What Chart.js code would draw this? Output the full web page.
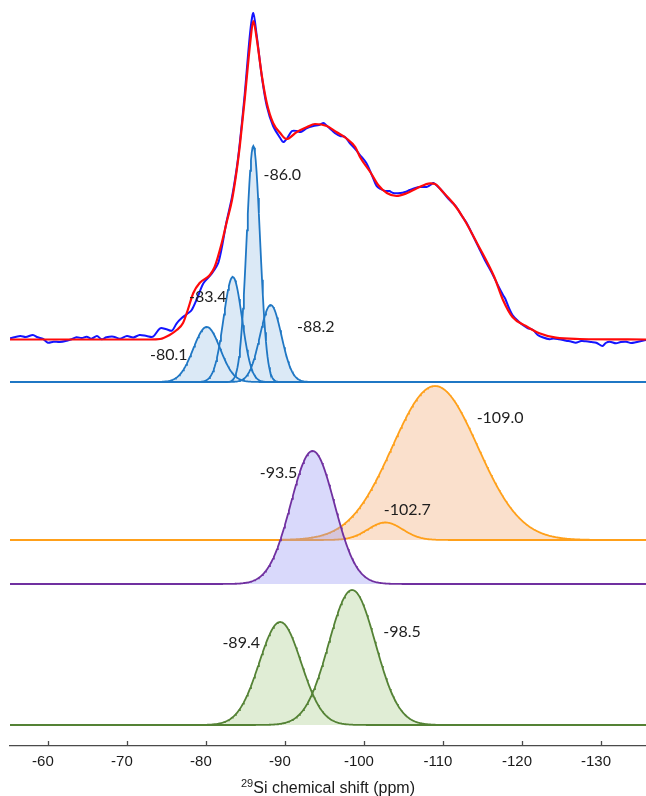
<!DOCTYPE html>
<html>
<head>
<meta charset="utf-8">
<script src="https://cdn.jsdelivr.net/npm/chart.js@4.4.1/dist/chart.umd.min.js"></script>
<style>
  html, body { margin: 0; padding: 0; background: #ffffff; }
  #wrap { position: relative; width: 646px; height: 796px; }
</style>
</head>
<body>
<div id="wrap"><canvas id="nmr" width="646" height="796"></canvas></div>
<script>
// ---- measured 29Si MAS NMR spectrum (ppm, intensity) ----
const expPpm = [-55.2,-56.5,-57.2,-58.1,-58.7,-59.4,-60.0,-60.7,-61.5,-62.4,-63.0,-63.6,-64.3,-64.9,-65.5,-66.2,-66.8,-67.4,-68.3,-69.1,
  -70.0,-70.8,-71.6,-72.5,-73.3,-74.2,-75.0,-75.7,-76.3,-76.9,-77.6,-78.2,-78.8,-79.7,-80.7,-81.6,-82.6,-83.3,-83.9,-84.3,
  -84.9,-85.6,-86.0,-86.4,-87.1,-87.7,-88.5,-89.4,-89.8,-90.3,-90.9,-91.5,-92.0,-92.8,-93.6,-94.3,-94.9,-95.2,-95.9,-96.5,
  -97.0,-97.6,-98.2,-98.9,-99.5,-100.3,-101.0,-101.6,-102.1,-102.7,-103.2,-103.7,-104.6,-105.2,-105.8,-106.5,-107.1,-107.9,-108.4,-108.8,
  -109.4,-109.9,-110.5,-111.1,-111.7,-112.4,-113.0,-113.7,-114.5,-115.3,-116.2,-117.0,-117.6,-117.9,-118.3,-118.8,-119.5,-120.1,-120.7,-121.4,
  -122.0,-122.6,-123.5,-124.0,-124.7,-125.6,-126.2,-126.8,-127.5,-128.1,-128.8,-129.4,-130.2,-130.6,-131.1,-131.9,-132.5,-133.2,-133.8,-134.4,
  -135.1,-135.7];
const expInt = [1.7,4,3,5,2.7,1,-2.7,-1.7,-2,-0.7,0.7,2.7,2,3.3,1.3,4,0.7,2.7,3.3,1.3,
  4,2.5,5,4,3.3,11.7,10.7,9.3,16.7,21.7,26,30,40,57,66,78,118,143,172,198,
  245,308,327,306,262,234,214,202,198,202,209,209,208,212,214,215,217,215,210,206,
  204,203,197,191,185,177,165,154,151,149,149,147,147,148,150,152,153,153,155,157,
  153,149,143,138,133,124,117,106,93,80,67,54,45,41,33,25,19,15,12,10,
  5,2.7,0.7,1.5,0.7,-0.7,-1.5,-2.7,-1,-1.3,-2,-2.7,-6,-3,-1.7,-3.3,-2,-1.7,-3,-2.3,
  -1,0];

// ---- overall fit ----
const fitPpm = [-55.2,-72.9,-74.2,-75.4,-76.3,-77.1,-77.7,-78.4,-79.2,-80.5,-81.1,-82.0,-82.6,-83.3,-83.9,-84.3,-84.9,-85.6,-86.0,-86.4,
  -87.1,-87.7,-88.5,-89.4,-90.2,-91.5,-92.8,-93.8,-95.3,-96.5,-97.8,-98.9,-99.5,-100.8,-101.8,-102.9,-104.1,-105.4,-106.7,-108.4,
  -109.0,-110.0,-111.3,-112.6,-114.3,-116.5,-117.6,-118.8,-120.5,-122.2,-124.3,-127.3,-135.7];
const fitInt = [0.5,0.5,1,5,10,17,30,47,57,65,73,97,117,140,170,195,240,297,319,303,
  263,237,217,207,201,208,213,216,214,208,201.5,193,183,168,155,147,144,146.7,151.7,156.7,
  156,148,136.7,121.7,97,63,40,23,14,6.7,2.3,1,0.5];

// ---- Gaussian components: centre (ppm), height, sigma (ppm) ----
const q2Centers = [-80.1, -83.4, -86.0, -88.2];
const q2Heights = [55, 105, 236, 77];
const q2Sigmas  = [1.7, 1.17, 0.85, 1.35];

const q4Centers = [-102.7, -109.0];
const q4Heights = [17.5, 154];
const q4Sigmas  = [2.2, 5.4];

const q3Centers = [-93.5];
const q3Heights = [133];
const q3Sigmas  = [2.75];

const q3bCenters = [-89.4, -98.5];
const q3bHeights = [103, 135];
const q3bSigmas  = [2.65, 2.95];

// ---- axis ----
const tickValues = [-60, -70, -80, -90, -100, -110, -120, -130];
const X_LEFT = -55.2, X_RIGHT = -135.7;

// vertical stacking of the traces (intensity units)
const rows = { spectrum: 406, q2: 364, q4: 206, q3: 162, q3b: 21 };

function gaussian(center, height, sigma, base) {
  const pts = [];
  const n = Math.round((X_LEFT - X_RIGHT) * 10);
  for (let i = 0; i <= n; i++) {
    const x = +(X_LEFT - i / 10).toFixed(2);
    const d = x - center;
    pts.push({ x: x, y: base + height * Math.exp(-d * d / (2 * sigma * sigma)) });
  }
  return pts;
}

// upper outline of a set of overlapping components (used for the shaded area)
function envelope(curves) {
  return curves[0].map((p, i) => ({ x: p.x, y: Math.max(...curves.map(c => c[i].y)) }));
}

function pairs(xs, ys, base) {
  return xs.map((x, i) => ({ x: x, y: base + ys[i] }));
}

const datasets = [];
let order = 0;
datasets.push({ label: 'fit', data: pairs(fitPpm, fitInt, rows.spectrum), borderColor: '#ff0a0a', borderWidth: 2.2,
  pointRadius: 0, fill: false, tension: 0.4, cubicInterpolationMode: 'monotone', order: order++ });
datasets.push({ label: 'experimental', data: pairs(expPpm, expInt, rows.spectrum), borderColor: '#1414ff', borderWidth: 2,
  pointRadius: 0, fill: false, tension: 0.3, order: order++ });

const groups = [
  { c: q2Centers, h: q2Heights, s: q2Sigmas, base: rows.q2, line: '#1f77c4', fill: 'rgba(91,155,213,0.22)' },
  { c: q3Centers, h: q3Heights, s: q3Sigmas, base: rows.q3, line: '#7030a0', fill: 'rgba(150,150,245,0.36)' },
  { c: q4Centers, h: q4Heights, s: q4Sigmas, base: rows.q4, line: '#ffa01a', fill: 'rgba(240,160,100,0.33)' },
  { c: q3bCenters, h: q3bHeights, s: q3bSigmas, base: rows.q3b, line: '#548235', fill: 'rgba(140,190,100,0.27)' }
];
const peakLabels = [];
groups.forEach(g => {
  const curves = g.c.map((c, i) => gaussian(c, g.h[i], g.s[i], g.base));
  curves.forEach((pts, i) => {
    datasets.push({ label: String(g.c[i]), data: pts, borderColor: g.line, borderWidth: 1.8,
      fill: false, pointRadius: 0, tension: 0, order: order++ });
    peakLabels.push({ center: g.c[i], top: g.base + g.h[i] });
  });
  // shaded area beneath the group, drawn under its outlines
  datasets.push({ label: 'area', data: envelope(curves), borderWidth: 0, borderColor: 'rgba(0,0,0,0)',
    backgroundColor: g.fill, fill: { value: g.base }, pointRadius: 0, tension: 0, order: order++ });
});

// label placement relative to each peak apex (pixels)
const labelShift = {
  '-80.1': [-38, 28], '-83.4': [-25, 20], '-86': [29, 29], '-88.2': [45, 22],
  '-93.5': [-34, 22], '-102.7': [22, -13], '-109': [65, 32],
  '-89.4': [-39, 21], '-98.5': [50, 42]
};

const decor = {
  id: 'decor',
  afterDraw(chart) {
    const ctx = chart.ctx;
    const xs = chart.scales.x, ys = chart.scales.y;
    const area = chart.chartArea;
    ctx.save();
    // inward tick marks on the ppm axis
    ctx.strokeStyle = '#4a4a4a';
    ctx.lineWidth = 1.3;
    tickValues.forEach(v => {
      const px = Math.round(xs.getPixelForValue(v)) + 0.5;
      ctx.beginPath();
      ctx.moveTo(px, area.bottom);
      ctx.lineTo(px, area.bottom - 5);
      ctx.stroke();
    });
    // peak position labels
    ctx.fillStyle = '#1e1e1e';
    ctx.font = '16px Lato, "Open Sans", sans-serif';
    ctx.textAlign = 'center';
    ctx.textBaseline = 'middle';
    peakLabels.forEach(p => {
      const sh = labelShift[String(p.center)] || [0, -12];
      const px = xs.getPixelForValue(p.center) + sh[0];
      const py = ys.getPixelForValue(p.top) + sh[1];
      ctx.fillText(p.center.toFixed(1), px, py);
    });
    // axis title with superscript mass number
    const sup = '29', main = 'Si chemical shift (ppm)';
    ctx.textBaseline = 'alphabetic';
    ctx.textAlign = 'left';
    ctx.font = '11px "Liberation Sans", Arial, sans-serif';
    const wSup = ctx.measureText(sup).width;
    ctx.font = '16px "Liberation Sans", Arial, sans-serif';
    const wMain = ctx.measureText(main).width;
    const x0 = (area.left + area.right) / 2 - (wSup + wMain) / 2;
    const yBase = 793;
    ctx.fillStyle = '#1a1a1a';
    ctx.fillText(main, x0 + wSup, yBase);
    ctx.font = '11px "Liberation Sans", Arial, sans-serif';
    ctx.fillText(sup, x0, yBase - 6);
    ctx.restore();
  }
};

new Chart(document.getElementById('nmr'), {
  type: 'line',
  data: { datasets: datasets },
  options: {
    responsive: false,
    animation: false,
    devicePixelRatio: 1,
    parsing: false,
    normalized: true,
    layout: { padding: { left: 10, right: 0, top: 0, bottom: 0 } },
    plugins: { legend: { display: false }, tooltip: { enabled: false } },
    scales: {
      x: {
        type: 'linear', reverse: true, min: X_RIGHT, max: X_LEFT,
        afterBuildTicks: s => { s.ticks = tickValues.map(v => ({ value: v })); },
        afterFit: s => { s.height = 50; },
        grid: { display: false, drawTicks: false },
        border: { display: true, color: '#4a4a4a', width: 1.3 },
        ticks: {
          autoSkip: false, maxRotation: 0, padding: 7, labelOffset: -5, color: '#1a1a1a',
          font: { family: '"Liberation Sans", Arial, sans-serif', size: 15 },
          callback: v => String(v)
        }
      },
      y: { type: 'linear', display: false, min: 0, max: 746 }
    }
  },
  plugins: [decor]
});
</script>
</body>
</html>
